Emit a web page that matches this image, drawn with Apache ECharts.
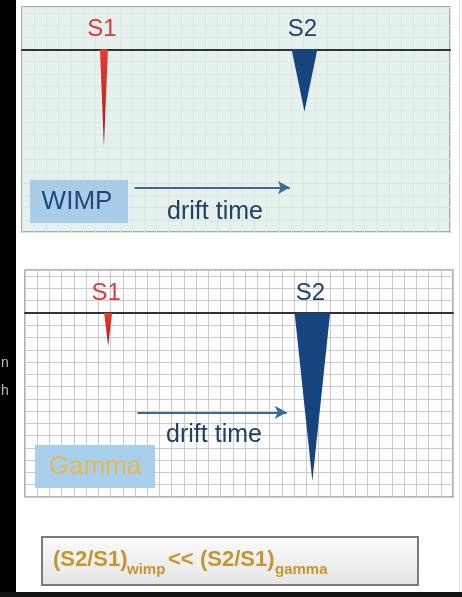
<!DOCTYPE html>
<html>
<head>
<meta charset="utf-8">
<script src="https://cdn.jsdelivr.net/npm/echarts@6/dist/echarts.min.js"></script>
<style>
  html, body { margin: 0; padding: 0; background: #fff; }
  #main { width: 462px; height: 597px; }
</style>
</head>
<body>
<div id="main"></div>
<script>
// panel names, signal names
const panelNames = ['WIMP', 'Gamma'];
const signalNames = ['S1', 'S2'];

// spike data in grid squares: drift position, depth below baseline, width at baseline
const s1Pos = [6.7, 6.8];
const s1Depth = [8.0, 2.7];
const s1Width = [0.65, 0.65];
const s2Pos = [23.1, 23.5];
const s2Depth = [5.1, 13.7];
const s2Width = [2.1, 2.9];

// drift-time arrow (start, end, height) per panel
const arrowFrom = [9.2, 9.2];
const arrowTo = [21.9, 21.4];
const arrowY = [-11.35, -8.1];

var chart = echarts.init(document.getElementById('main'));

var font = '"Liberation Sans", Arial, sans-serif';
var redFill = new echarts.graphic.LinearGradient(0, 0, 0, 1, [
  { offset: 0, color: '#ec3a2e' },
  { offset: 0.7, color: '#b52620' },
  { offset: 1, color: '#5a1a18' }
]);
var blueFill = '#16447f';

// draws one triangular pulse hanging from the baseline
function spike(params, api) {
  var x = api.value(0), d = api.value(1), w = api.value(2), k = api.value(3);
  var a = api.coord([x - w / 2, 0]);
  var b = api.coord([x + w / 2, 0]);
  var c = api.coord([x, -d]);
  var top = api.coord([x, 0]);
  return {
    type: 'group',
    children: [
      { type: 'polygon', shape: { points: [a, b, c] }, style: { fill: k === 0 ? redFill : blueFill } },
      {
        type: 'text',
        style: {
          text: signalNames[k], x: top[0] - 2, y: top[1] - 20,
          align: 'center', verticalAlign: 'middle',
          font: '24px ' + font, fill: k === 0 ? '#d93a3a' : '#24416b'
        }
      }
    ]
  };
}

var grids = [
  { left: 22, top: 7, width: 428, height: 225, show: true, backgroundColor: '#e6f1ee', borderColor: '#8b9693', borderWidth: 1.5 },
  { left: 25, top: 270, width: 428, height: 227, show: true, backgroundColor: '#fdfdfd', borderColor: '#9a9a9a', borderWidth: 1.5 }
];
var splitColors = ['#d9e7e3', '#cbcbcb'];

var xAxes = [], yAxes = [], series = [];
for (var i = 0; i < 2; i++) {
  xAxes.push({
    type: 'value', gridIndex: i, min: 0, max: 35, interval: 1,
    axisLabel: { show: false }, axisTick: { show: false },
    axisLine: { show: true, onZero: true, lineStyle: { color: '#2f3534', width: 2 } },
    splitLine: { show: true, lineStyle: { color: splitColors[i], width: 1 } }
  });
  yAxes.push({
    type: 'value', gridIndex: i, min: -15, max: 3.5, interval: 1,
    axisLabel: { show: false }, axisTick: { show: false }, axisLine: { show: false },
    splitLine: { show: true, lineStyle: { color: splitColors[i], width: 1 } }
  });
  series.push({
    type: 'custom', xAxisIndex: i, yAxisIndex: i,
    renderItem: spike, silent: true,
    data: [
      [s1Pos[i], s1Depth[i], s1Width[i], 0],
      [s2Pos[i], s2Depth[i], s2Width[i], 1]
    ],
    markLine: {
      silent: true, symbol: ['none', 'arrow'], symbolSize: [10, 12],
      label: { show: false },
      lineStyle: { color: '#3a6c93', width: 2, type: 'solid' },
      data: [[{ coord: [arrowFrom[i], arrowY[i]] }, { coord: [arrowTo[i], arrowY[i]] }]]
    }
  });
}

chart.setOption({
  animation: false,
  backgroundColor: '#ffffff',
  grid: grids,
  xAxis: xAxes,
  yAxis: yAxes,
  series: series,
  graphic: [
    // dark frame edges
    { type: 'rect', shape: { x: 0, y: 0, width: 16, height: 597 }, style: { fill: '#000' } },
    { type: 'rect', shape: { x: 0, y: 592, width: 462, height: 5 }, style: { fill: '#111' } },
    { type: 'rect', shape: { x: 459, y: 0, width: 1, height: 592 }, style: { fill: '#dddddd' } },
    { type: 'text', style: { text: 'n', x: 1, y: 363, verticalAlign: 'middle', font: '14px ' + font, fill: '#bbbbbb' }, z: 5 },
    { type: 'text', style: { text: 'h', x: 1, y: 391, verticalAlign: 'middle', font: '14px ' + font, fill: '#bbbbbb' }, z: 5 },
    // panel tags
    { type: 'rect', shape: { x: 30, y: 180, width: 98, height: 43 }, style: { fill: '#a9cde8' }, z: 10 },
    { type: 'text', style: { text: panelNames[0], x: 77, y: 202, align: 'center', verticalAlign: 'middle', font: '26px ' + font, fill: '#1f4a78' }, z: 11 },
    { type: 'rect', shape: { x: 35, y: 445, width: 120, height: 43 }, style: { fill: '#a8d0ee' }, z: 10 },
    { type: 'text', style: { text: panelNames[1], x: 95, y: 467, align: 'center', verticalAlign: 'middle', font: '26px ' + font, fill: '#e6b84e' }, z: 11 },
    // axis captions
    { type: 'text', style: { text: 'drift time', x: 215, y: 212, align: 'center', verticalAlign: 'middle', font: '25px ' + font, fill: '#223f66' }, z: 11 },
    { type: 'text', style: { text: 'drift time', x: 214, y: 435, align: 'center', verticalAlign: 'middle', font: '25px ' + font, fill: '#223f66' }, z: 11 },
    // ratio caption box
    {
      type: 'rect', shape: { x: 42, y: 537, width: 376, height: 48 },
      style: {
        fill: new echarts.graphic.LinearGradient(0, 0, 0, 1, [
          { offset: 0, color: '#fbfbfb' }, { offset: 1, color: '#e4e4e4' }
        ]),
        stroke: '#7a7a7a', lineWidth: 2
      }, z: 10
    },
    { type: 'text', style: { text: '(S2/S1)', x: 53, y: 560, verticalAlign: 'middle', font: 'bold 22px ' + font, fill: '#c7952e' }, z: 11 },
    { type: 'text', style: { text: 'wimp', x: 127, y: 570, verticalAlign: 'middle', font: 'bold 15px ' + font, fill: '#c7952e' }, z: 11 },
    { type: 'text', style: { text: '<<', x: 168, y: 560, verticalAlign: 'middle', font: 'bold 22px ' + font, fill: '#c7952e' }, z: 11 },
    { type: 'text', style: { text: '(S2/S1)', x: 200, y: 560, verticalAlign: 'middle', font: 'bold 22px ' + font, fill: '#c7952e' }, z: 11 },
    { type: 'text', style: { text: 'gamma', x: 275, y: 570, verticalAlign: 'middle', font: 'bold 15px ' + font, fill: '#c7952e' }, z: 11 }
  ]
});
</script>
</body>
</html>
